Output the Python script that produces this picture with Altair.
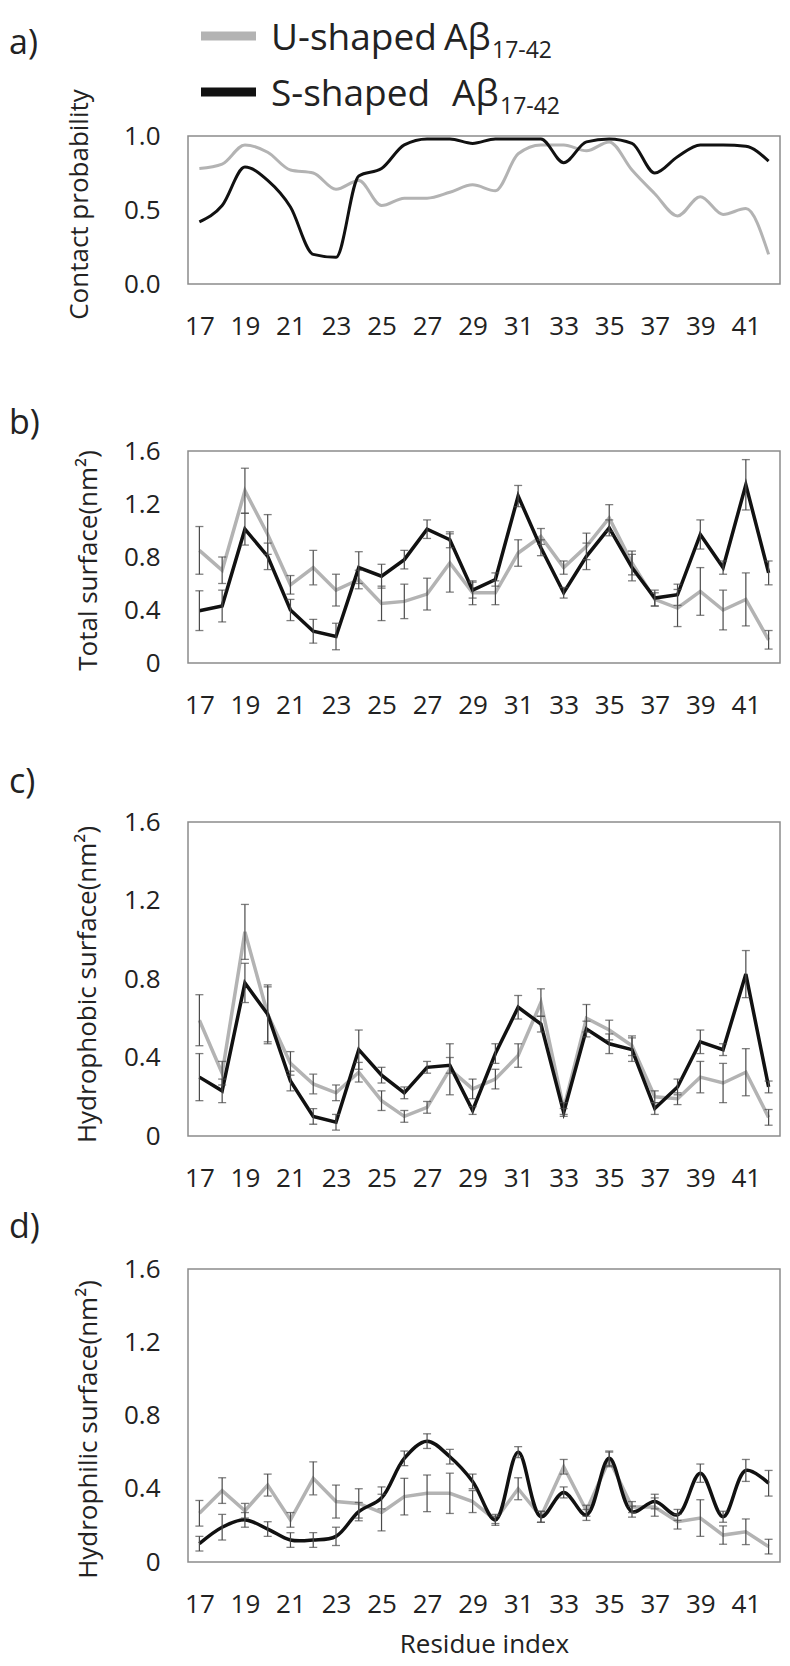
import altair as alt
import pandas as pd

residues = list(range(17, 43))

# a) contact probability
a_U = [0.78, 0.81, 0.94, 0.89, 0.77, 0.75, 0.64, 0.70, 0.53, 0.58, 0.58, 0.62, 0.67,
       0.63, 0.88, 0.94, 0.94, 0.90, 0.96, 0.77, 0.61, 0.46, 0.59, 0.47, 0.51, 0.20]
a_S = [0.42, 0.53, 0.79, 0.70, 0.52, 0.20, 0.18, 0.73, 0.78, 0.94, 0.98, 0.98, 0.95,
       0.98, 0.98, 0.98, 0.82, 0.96, 0.98, 0.95, 0.75, 0.86, 0.94, 0.94, 0.93, 0.83]

# b) total surface
b_U = [0.85, 0.70, 1.30, 0.97, 0.59, 0.72, 0.55, 0.63, 0.45, 0.465, 0.52, 0.755, 0.53,
       0.53, 0.83, 0.955, 0.72, 0.88, 1.095, 0.755, 0.48, 0.415, 0.54, 0.40, 0.48, 0.175]
b_U_err = [0.18, 0.10, 0.17, 0.15, 0.07, 0.13, 0.12, 0.07, 0.13, 0.13, 0.12, 0.22, 0.09,
           0.09, 0.10, 0.06, 0.05, 0.10, 0.10, 0.09, 0.05, 0.14, 0.18, 0.15, 0.20, 0.07]
b_S = [0.395, 0.43, 1.01, 0.805, 0.40, 0.24, 0.20, 0.72, 0.655, 0.78, 1.01, 0.93, 0.55,
       0.63, 1.26, 0.87, 0.53, 0.805, 1.02, 0.72, 0.49, 0.515, 0.97, 0.72, 1.345, 0.68]
b_S_err = [0.15, 0.12, 0.12, 0.10, 0.08, 0.09, 0.10, 0.12, 0.09, 0.07, 0.07, 0.06, 0.06,
           0.05, 0.08, 0.06, 0.04, 0.10, 0.06, 0.10, 0.06, 0.08, 0.11, 0.05, 0.19, 0.09]

# c) hydrophobic surface
c_U = [0.59, 0.32, 1.04, 0.62, 0.37, 0.265, 0.22, 0.325, 0.18, 0.10, 0.146, 0.34, 0.24,
       0.29, 0.41, 0.68, 0.14, 0.60, 0.54, 0.46, 0.20, 0.19, 0.30, 0.27, 0.325, 0.095]
c_U_err = [0.13, 0.06, 0.14, 0.15, 0.06, 0.05, 0.04, 0.05, 0.05, 0.03, 0.03, 0.13, 0.05,
           0.05, 0.06, 0.07, 0.03, 0.07, 0.05, 0.05, 0.03, 0.03, 0.08, 0.10, 0.12, 0.04]
c_S = [0.30, 0.23, 0.78, 0.62, 0.28, 0.10, 0.07, 0.44, 0.31, 0.22, 0.35, 0.36, 0.13,
       0.42, 0.656, 0.57, 0.12, 0.545, 0.47, 0.44, 0.14, 0.25, 0.48, 0.44, 0.825, 0.25]
c_S_err = [0.12, 0.06, 0.10, 0.14, 0.05, 0.04, 0.04, 0.10, 0.04, 0.03, 0.03, 0.04, 0.02,
           0.05, 0.06, 0.04, 0.02, 0.04, 0.05, 0.06, 0.03, 0.04, 0.06, 0.03, 0.12, 0.03]

# d) hydrophilic surface
d_U = [0.266, 0.39, 0.28, 0.42, 0.23, 0.457, 0.33, 0.32, 0.27, 0.357, 0.375, 0.375, 0.33,
       0.23, 0.40, 0.247, 0.52, 0.28, 0.56, 0.30, 0.30, 0.22, 0.24, 0.147, 0.165, 0.084]
d_U_err = [0.07, 0.07, 0.04, 0.06, 0.04, 0.09, 0.09, 0.08, 0.10, 0.10, 0.10, 0.11, 0.06,
           0.03, 0.06, 0.03, 0.04, 0.03, 0.04, 0.03, 0.05, 0.04, 0.10, 0.05, 0.07, 0.04]
d_S = [0.10, 0.19, 0.23, 0.18, 0.12, 0.12, 0.14, 0.275, 0.35, 0.566, 0.66, 0.575, 0.44,
       0.23, 0.60, 0.247, 0.38, 0.257, 0.566, 0.275, 0.33, 0.257, 0.485, 0.247, 0.50, 0.43]
d_S_err = [0.04, 0.07, 0.04, 0.04, 0.04, 0.04, 0.05, 0.05, 0.06, 0.04, 0.04, 0.04, 0.04,
           0.02, 0.03, 0.03, 0.03, 0.03, 0.04, 0.03, 0.04, 0.03, 0.05, 0.03, 0.06, 0.07]

x_ticks = list(range(17, 42, 2))
y_ticks_a = [0.0, 0.5, 1.0]
y_ticks_s = [0.0, 0.4, 0.8, 1.2, 1.6]

legend_U = "U-shaped"
legend_S = "S-shaped"
legend_ab = "Aβ"
legend_sub = "17-42"

GRAY = "#b3b3b3"
BLACK = "#111111"
ERRC = "#4a4a4a"
TXT = "#222222"
FONT = "Open Sans"
W = 592


def make_df(u, s, ue=None, se=None):
    rows = []
    for i, r in enumerate(residues):
        rows.append(dict(res=r, series="U", val=u[i], err=(ue[i] if ue else 0.0)))
        rows.append(dict(res=r, series="S", val=s[i], err=(se[i] if se else 0.0)))
    df = pd.DataFrame(rows)
    df["lo"] = df["val"] - df["err"]
    df["hi"] = df["val"] + df["err"]
    return df


one = pd.DataFrame({"k": [0]})


def text_layer(txt, x, y, size, baseline="middle"):
    return alt.Chart(one).mark_text(
        text=txt, align="left", baseline=baseline, fontSize=size, font=FONT, color=TXT
    ).encode(x=alt.value(x), y=alt.value(y))


def spacer(y):
    return alt.Chart(one).mark_rule(color="white", strokeWidth=1).encode(
        x=alt.value(0), x2=alt.value(1), y=alt.value(y)
    )


def panel(df, h, ydom, yvals, label_expr, ytitle, title_x, title_y, label, label_y,
          spacer_y, interp_u="linear", interp_s="linear", xtitle=None, errors=True,
          lw=3.5, extra=()):
    xaxis = alt.Axis(values=x_ticks, format="d", labelPadding=29, title=xtitle,
                     titlePadding=14)
    xs = alt.Scale(domain=[16.5, 42.5], nice=False, zero=False)
    yaxis = alt.Axis(values=yvals, labelExpr=label_expr, title=ytitle, titleX=title_x,
                     titleY=title_y, titleAngle=270, titleAlign="center",
                     titleBaseline="middle", labelPadding=28)
    ys = alt.Scale(domain=ydom, nice=False, zero=True)

    def X():
        return alt.X("res:Q", scale=xs, axis=xaxis)

    def Y(f):
        return alt.Y(f + ":Q", scale=ys, axis=yaxis)

    base = alt.Chart(df)
    layers = []
    u = base.transform_filter(alt.datum.series == "U")
    s = base.transform_filter(alt.datum.series == "S")
    layers.append(u.mark_line(color=GRAY, strokeWidth=lw, interpolate=interp_u)
                  .encode(x=X(), y=Y("val")))
    layers.append(s.mark_line(color=BLACK, strokeWidth=lw, interpolate=interp_s)
                  .encode(x=X(), y=Y("val")))
    if errors:
        layers.append(base.mark_rule(color=ERRC, strokeWidth=1.2)
                      .encode(x=X(), y=Y("lo"), y2="hi:Q"))
        layers.append(base.mark_tick(orient="horizontal", color=ERRC, size=8, thickness=1.3)
                      .encode(x=X(), y=Y("lo")))
        layers.append(base.mark_tick(orient="horizontal", color=ERRC, size=8, thickness=1.3)
                      .encode(x=X(), y=Y("hi")))
    layers.append(text_layer(label, -179, label_y, 34))
    layers.append(spacer(spacer_y))
    layers.extend(extra)
    return alt.layer(*layers).properties(width=W, height=h)


df_a = make_df(a_U, a_S)
df_b = make_df(b_U, b_S, b_U_err, b_S_err)
df_c = make_df(c_U, c_S, c_U_err, c_S_err)
df_d = make_df(d_U, d_S, d_U_err, d_S_err)

fmt_a = "format(datum.value, '.1f')"
fmt_s = "datum.value == 0 ? '0' : format(datum.value, '.1f')"

legend_layers = [
    alt.Chart(one).mark_rule(color=GRAY, strokeWidth=9).encode(
        x=alt.value(13), x2=alt.value(68), y=alt.value(-100)),
    alt.Chart(one).mark_rule(color=BLACK, strokeWidth=9).encode(
        x=alt.value(13), x2=alt.value(68), y=alt.value(-44)),
    text_layer(legend_U, 83, -86, 37, baseline="alphabetic"),
    text_layer(legend_ab, 256, -86, 37, baseline="alphabetic"),
    text_layer(legend_sub, 304, -78, 23, baseline="alphabetic"),
    text_layer(legend_S, 83, -30, 37, baseline="alphabetic"),
    text_layer(legend_ab, 264, -30, 37, baseline="alphabetic"),
    text_layer(legend_sub, 312, -22, 23, baseline="alphabetic"),
]

pa = panel(df_a, 148, [0, 1.0], y_ticks_a, fmt_a, "Contact probability", -109, 68,
           "a)", -92, -126, interp_u="monotone", interp_s="monotone", errors=False,
           lw=3.0, extra=legend_layers)
pb = panel(df_b, 212, [0, 1.6], y_ticks_s, fmt_s, "Total surface(nm²)", -100, 109,
           "b)", -27, -109)
pc = panel(df_c, 314, [0, 1.6], y_ticks_s, fmt_s, "Hydrophobic surface(nm²)", -101, 162,
           "c)", -39, -101)
pd_ = panel(df_d, 293, [0, 1.6], y_ticks_s, fmt_s, "Hydrophilic surface(nm²)", -100, 160,
            "d)", -41, -75, interp_s="catmull-rom", xtitle="Residue index",
            extra=[spacer(293 + 104)])

chart = alt.vconcat(pa, pb, pc, pd_, spacing=0).properties(
    padding=0, background="white"
).configure_view(
    stroke="#8c8c8c", strokeWidth=1.5
).configure_axis(
    domain=False, ticks=False, grid=False,
    labelFont=FONT, labelFontSize=26, labelColor=TXT,
    titleFont=FONT, titleFontSize=26, titleFontWeight="normal", titleColor=TXT,
)

chart.save("out.html", embed_options={"renderer": "svg", "actions": False})
